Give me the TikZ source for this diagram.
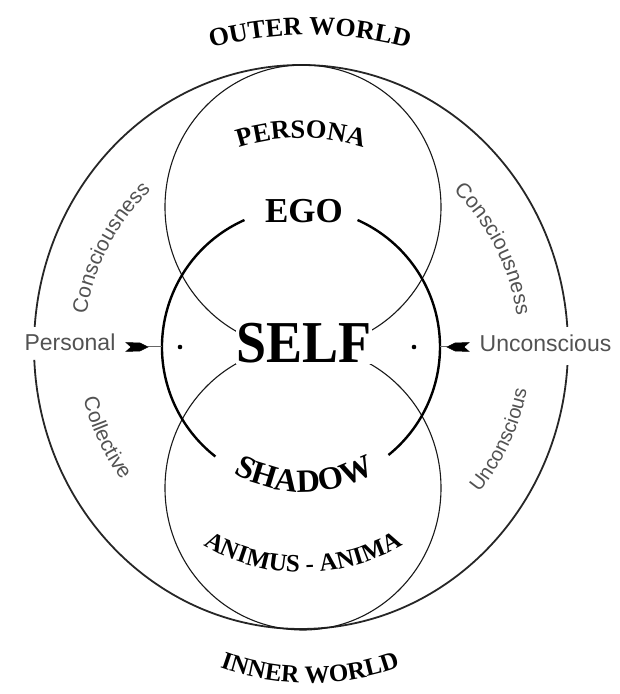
\documentclass[tikz,border=0pt]{standalone}
\usepackage{fontspec}
\setmainfont{Liberation Serif}
\newfontfamily\sidefont{Liberation Sans}
\usetikzlibrary{decorations.text}
\definecolor{sidegray}{gray}{0.32}
\newcommand\fOW{\fontsize{26}{30}\selectfont\bfseries}
\newcommand\fPER{\fontsize{26.5}{30}\selectfont\bfseries}
\newcommand\fSHA{\fontsize{32.5}{36}\selectfont\bfseries}
\newcommand\fANI{\fontsize{25}{30}\selectfont\bfseries}
\newcommand\fIW{\fontsize{25}{30}\selectfont\bfseries}
\newcommand\fSIDEa{\fontsize{21}{25}\selectfont\sidefont\color{sidegray}}
\newcommand\fSIDEb{\fontsize{20}{24}\selectfont\sidefont\color{sidegray}}
\tikzset{
  outerline/.style={line width=1.8pt, black!85},
  thinline/.style={line width=1.1pt, black!90},
  midline/.style={line width=2.4pt, black},
  curvetext/.style={decorate, decoration={text along path, text={#1}, text align=center}},
  sidelabel/.style={font=\fontsize{23}{27}\selectfont\sidefont, text=sidegray, anchor=base, inner sep=0pt},
  tipshape/.style={fill=black, draw=black, line width=0.5pt},
  stemline/.style={line width=1pt, black!60},
}
\begin{document}
\begin{tikzpicture}[x=1pt,y=1pt]
\useasboundingbox (0,0) rectangle (619,694);
\coordinate (C) at (301,347);
\coordinate (Ct) at (303,487);
\coordinate (Cb) at (303,206);
% outer world / inner world boundary
\draw[outerline] ([shift={(C)}]4.1:267pt and 282pt) arc[start angle=4.1,end angle=175.9,x radius=267pt,y radius=282pt];
\draw[outerline] ([shift={(C)}]182.6:267pt and 282pt) arc[start angle=182.6,end angle=356.3,x radius=267pt,y radius=282pt];
% upper and lower circles
\draw[thinline] (Ct) ellipse[x radius=138pt,y radius=142pt];
\draw[thinline] (Cb) ellipse[x radius=138pt,y radius=142pt];
% self circle
\draw[midline] ([shift={(C)}]114:139pt) arc[start angle=114,end angle=232,radius=139pt];
\draw[midline] ([shift={(C)}]-51:139pt) arc[start angle=-51,end angle=66,radius=139pt];
% curved labels
\path[curvetext={|\fOW|OUTER WORLD}] ([shift={(310,277)}]110:382pt) arc[start angle=110,end angle=70,radius=382pt];
\path[curvetext={|\fPER|PERSONA}] ([shift={(301,356)}]120:200pt) arc[start angle=120,end angle=60,radius=200pt];
\path[curvetext={|\fSHA|SHADOW}] ([shift={(304,347)}]225:145pt) arc[start angle=225,end angle=315,radius=145pt];
\path[curvetext={|\fANI|ANIMUS - ANIMA}] ([shift={(303,317)}]235:195.5pt) arc[start angle=235,end angle=305,radius=195.5pt];
\path[curvetext={|\fIW|INNER WORLD}] ([shift={(310,277)}]245:266pt) arc[start angle=245,end angle=295,radius=266pt];
% side labels
\path[curvetext={|\fSIDEa|Consciousness}] ([shift={(C)}]185:217pt) arc[start angle=185,end angle=120,radius=217pt];
\path[curvetext={|\fSIDEa|Consciousness}] ([shift={(C)}]62:218pt) arc[start angle=62,end angle=-8,radius=218pt];
\path[curvetext={|\fSIDEa|Collective}] ([shift={(C)}]180:223.5pt) arc[start angle=180,end angle=230,radius=223.5pt];
\path[curvetext={|\fSIDEb|Unconscious}] ([shift={(C)}]-55:230pt) arc[start angle=-55,end angle=5,radius=230pt];
% central labels
\node[anchor=base, inner sep=0pt, font=\fontsize{35}{40}\selectfont\bfseries] (ego) at (304,471) {EGO};
\node[anchor=base, inner sep=0pt, fill=white, font=\fontsize{54}{60}\selectfont\bfseries, yscale=1.1, transform shape] (self) at (304,331) {SELF};
\node[sidelabel] (personal) at (70,343) {Personal};
\node[sidelabel] (uncons) at (545.5,342) {Unconscious};
% arrows and points
\coordinate (lcirc) at (162,347);
\coordinate (rcirc) at (440,347);
\coordinate (ltip) at (148,347);
\coordinate (rtip) at (447,347);
\draw[stemline] (ltip) -- (lcirc);
\draw[stemline] (rtip) -- (rcirc);
\fill[tipshape] (126,351.5) -- (140,351) -- (ltip) -- (140,343) -- (126,342.5) -- (131,347) -- cycle;
\fill[tipshape] (469,351.5) -- (455,351) -- (rtip) -- (455,343) -- (469,342.5) -- (464,347) -- cycle;
\fill (180,347) circle[radius=2.3pt];
\fill (414,347) circle[radius=2.3pt];
\end{tikzpicture}
\end{document}
